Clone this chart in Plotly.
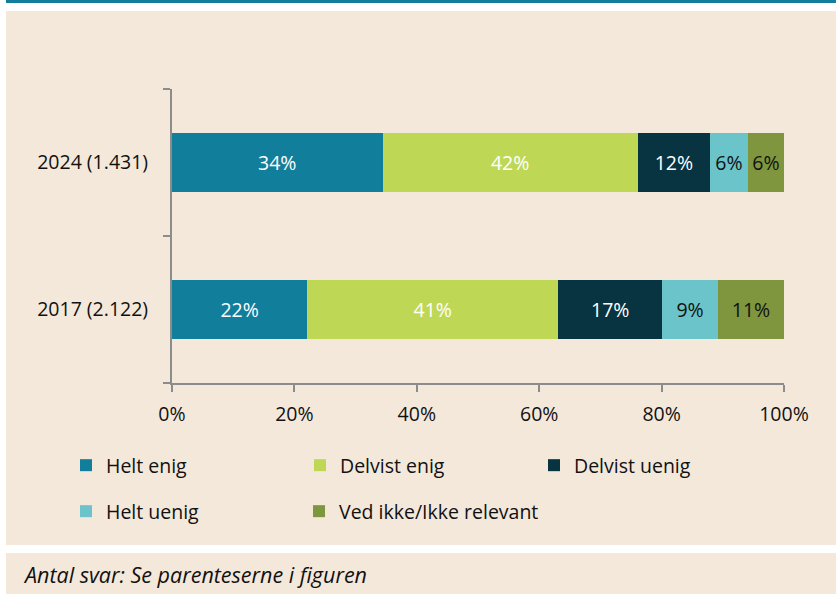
import plotly.graph_objects as go

years = ["2017 (2.122)", "2024 (1.431)"]
categories = ["Helt enig", "Delvist enig", "Delvist uenig", "Helt uenig", "Ved ikke/Ikke relevant"]
values = {
    "Helt enig": [22.1, 34.4],
    "Delvist enig": [41.0, 41.7],
    "Delvist uenig": [17.0, 11.8],
    "Helt uenig": [9.1, 6.2],
    "Ved ikke/Ikke relevant": [10.8, 5.9],
}
labels = {
    "Helt enig": ["22%", "34%"],
    "Delvist enig": ["41%", "42%"],
    "Delvist uenig": ["17%", "12%"],
    "Helt uenig": ["9%", "6%"],
    "Ved ikke/Ikke relevant": ["11%", "6%"],
}
colors = ["#117E9B", "#BED856", "#083442", "#6AC4C9", "#7F963E"]
text_colors = ["white", "white", "white", "#111111", "#111111"]
legend_ids = ["legend", "legend", "legend", "legend2", "legend3"]
x_ticks = [0, 20, 40, 60, 80, 100]
x_ticktext = ["0%", "20%", "40%", "60%", "80%", "100%"]
footer = "Antal svar: Se parenteserne i figuren"

FONT = "Open Sans"
BEIGE = "#F4E8DB"
TEAL = "#137E9C"
AXIS = "#8C8C8C"
FS = 19.5

ypos = [0.5, 1.5]
fig = go.Figure()
for i, c in enumerate(categories):
    fig.add_trace(go.Bar(
        y=ypos, x=values[c], orientation="h", name=c,
        marker=dict(color=colors[i], line=dict(width=0)),
        width=0.4,
        text=labels[c], textposition="inside", insidetextanchor="middle",
        textfont=dict(color=text_colors[i], size=FS, family=FONT),
        legend=legend_ids[i],
        hoverinfo="skip",
    ))

W, H = 836, 594
L, R, T, B = 172, 52, 89, 211
pw, ph = W - L - R, H - T - B

def px(xp):
    return (xp - L) / pw

def py(yp):
    return (H - B - yp) / ph

shapes = [
    dict(type="rect", xref="paper", yref="paper", x0=px(6), x1=px(840), y0=py(545), y1=py(11),
         fillcolor=BEIGE, line=dict(width=0), layer="below"),
    dict(type="rect", xref="paper", yref="paper", x0=px(6), x1=px(840), y0=py(600), y1=py(553),
         fillcolor=BEIGE, line=dict(width=0), layer="below"),
    dict(type="rect", xref="paper", yref="paper", x0=px(6), x1=px(840), y0=py(3), y1=py(-5),
         fillcolor=TEAL, line=dict(width=0), layer="below"),
]

legend_common = dict(orientation="h", xanchor="left", yanchor="top", bgcolor="rgba(0,0,0,0)",
                     font=dict(size=FS, family=FONT, color="#111111"), traceorder="normal")

fig.update_layout(
    width=W, height=H,
    margin=dict(l=L, r=R, t=T, b=B, pad=0),
    paper_bgcolor="white", plot_bgcolor="rgba(0,0,0,0)",
    barmode="stack", bargap=0.6,
    font=dict(family=FONT, size=FS, color="#111111"),
    shapes=shapes,
    showlegend=True,
    legend=dict(x=px(66), y=py(446), entrywidth=189, entrywidthmode="pixels", **legend_common),
    legend2=dict(x=px(66), y=py(492), **legend_common),
    legend3=dict(x=px(299), y=py(492), **legend_common),
    annotations=[dict(text="<i>" + footer + "</i>", xref="paper", yref="paper",
                      x=px(21), y=py(574), xanchor="left", yanchor="middle", showarrow=False,
                      font=dict(size=21.5, family=FONT, color="#111111"))],
)
fig.update_xaxes(range=[0, 100], tickvals=x_ticks, ticktext=x_ticktext,
                 showgrid=False, zeroline=False, showline=True, linecolor=AXIS, linewidth=2,
                 ticks="outside", ticklen=7, tickwidth=2, tickcolor=AXIS, ticklabelstandoff=6,
                 tickfont=dict(size=FS, family=FONT, color="#111111"), fixedrange=True)
fig.update_yaxes(range=[0, 2], tickvals=ypos, ticktext=years, ticks="", ticklabelstandoff=18,
                 showgrid=False, zeroline=False, showline=True, linecolor=AXIS, linewidth=2,
                 minor=dict(tickvals=[0, 1, 2], ticks="outside", ticklen=7, tickwidth=2, tickcolor=AXIS),
                 tickfont=dict(size=FS, family=FONT, color="#111111"), fixedrange=True)

fig.write_html("out.html", config={"displayModeBar": False},
               post_script="document.body.style.margin='0';")
